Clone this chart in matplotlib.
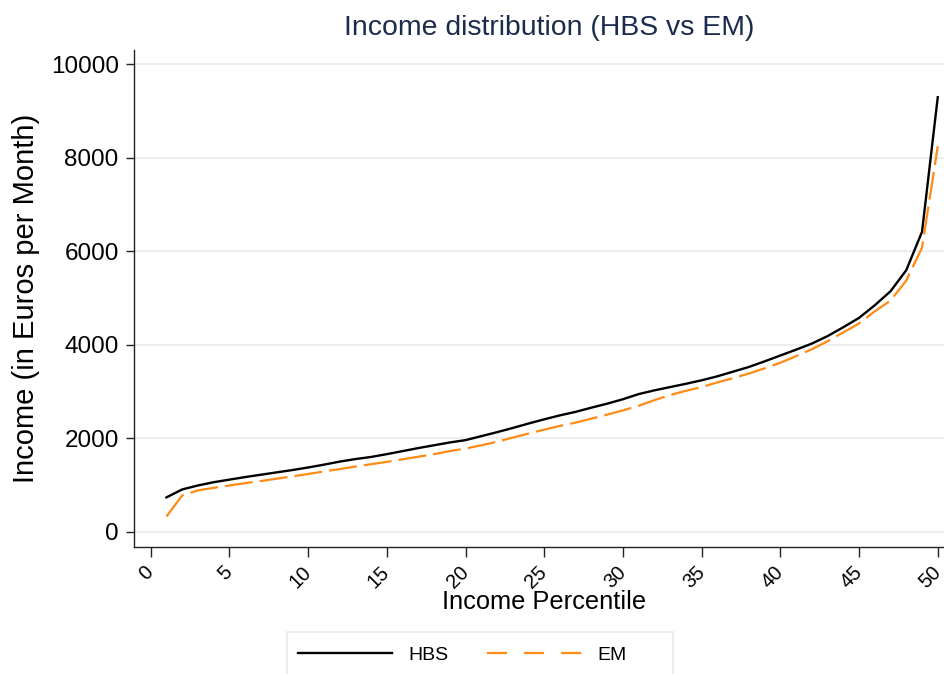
import matplotlib
matplotlib.use("Agg")
import matplotlib.pyplot as plt
from matplotlib.lines import Line2D
from matplotlib.patches import Rectangle

plt.rcParams['font.family'] = ['Liberation Sans', 'DejaVu Sans']

percentile = list(range(1, 51))
hbs = [740, 910, 995, 1065, 1120, 1175, 1225, 1275, 1325, 1380,
       1440, 1505, 1560, 1605, 1665, 1730, 1795, 1855, 1915, 1965,
       2050, 2135, 2225, 2320, 2410, 2495, 2570, 2660, 2745, 2840,
       2950, 3030, 3100, 3170, 3245, 3330, 3430, 3530, 3650, 3775,
       3900, 4030, 4190, 4380, 4580, 4850, 5150, 5600, 6420, 9300]
em = [330, 780, 890, 945, 995, 1045, 1090, 1140, 1190, 1240,
      1295, 1345, 1400, 1450, 1500, 1555, 1610, 1665, 1730, 1785,
      1855, 1930, 2020, 2105, 2190, 2270, 2340, 2425, 2510, 2600,
      2700, 2820, 2930, 3020, 3100, 3200, 3290, 3390, 3500, 3620,
      3760, 3910, 4080, 4270, 4460, 4720, 4950, 5380, 6080, 8250]
xticks = list(range(0, 51, 5))
yticks = list(range(0, 10001, 2000))
series_labels = ['HBS', 'EM']

BLACK = '#000000'
ORANGE = '#ff8a14'

W, H = 945, 674
fig = plt.figure(figsize=(W / 100, H / 100), dpi=100)
ax = fig.add_axes([134 / W, 1 - 547 / H, (945 - 134) / W, (547 - 50) / H])

ax.plot(percentile, hbs, color=BLACK, lw=1.7, zorder=3)
ax.plot(percentile, em, color=ORANGE, lw=1.6, dashes=(12.6, 3.2), zorder=3)

ax.set_xlim(-1.06, 50.46)
ax.set_ylim(-321, 10310)
ax.set_xticks(xticks)
ax.set_yticks(yticks)
ax.set_xticklabels([str(t) for t in xticks], rotation=45, ha='right', va='center',
                   rotation_mode='anchor')
ax.tick_params(axis='y', labelsize=17.5, length=6, width=1, color='#222222', pad=5)
ax.tick_params(axis='x', labelsize=14.5, length=7, width=1, color='#222222', pad=9)
ax.grid(axis='y', color='#eaf0f2', lw=1.5, zorder=0)
ax.set_axisbelow(True)
for s in ['top', 'right']:
    ax.spines[s].set_visible(False)
for s in ['left', 'bottom']:
    ax.spines[s].set_color('#222222')
    ax.spines[s].set_linewidth(1)

ax.set_xlabel('Income Percentile', fontsize=18.3, labelpad=0)
ax.xaxis.set_label_coords((544 - 134) / (945 - 134), -(590 - 547) / (547 - 50))
ax.set_ylabel('Income (in Euros per Month)', fontsize=21, labelpad=8)
fig.text(549 / W, 1 - 28 / H, 'Income distribution (HBS vs EM)', fontsize=20.4,
         color='#1c2b4d', ha='center', va='center')

# legend frame (Stata-style box, running past the bottom edge)
fig.patches.append(Rectangle((287 / W, 1 - 680 / H), (673 - 287) / W, (680 - 632) / H,
                             transform=fig.transFigure, facecolor='white',
                             edgecolor='#e3ecee', lw=1.2, zorder=1))
handles = [Line2D([], [], color=BLACK, lw=1.7),
           Line2D([], [], color=ORANGE, lw=1.6, dashes=(9.0, 7.7))]
leg = fig.legend(handles, series_labels, loc='center left',
                 bbox_to_anchor=(298 / W, 1 - 655 / H), ncol=2,
                 fontsize=14, frameon=False, handlelength=4.85, handletextpad=0.82,
                 columnspacing=2.0, borderpad=0.0, borderaxespad=0.0)
leg.set_zorder(5)

fig.savefig('out.png', dpi=100)
